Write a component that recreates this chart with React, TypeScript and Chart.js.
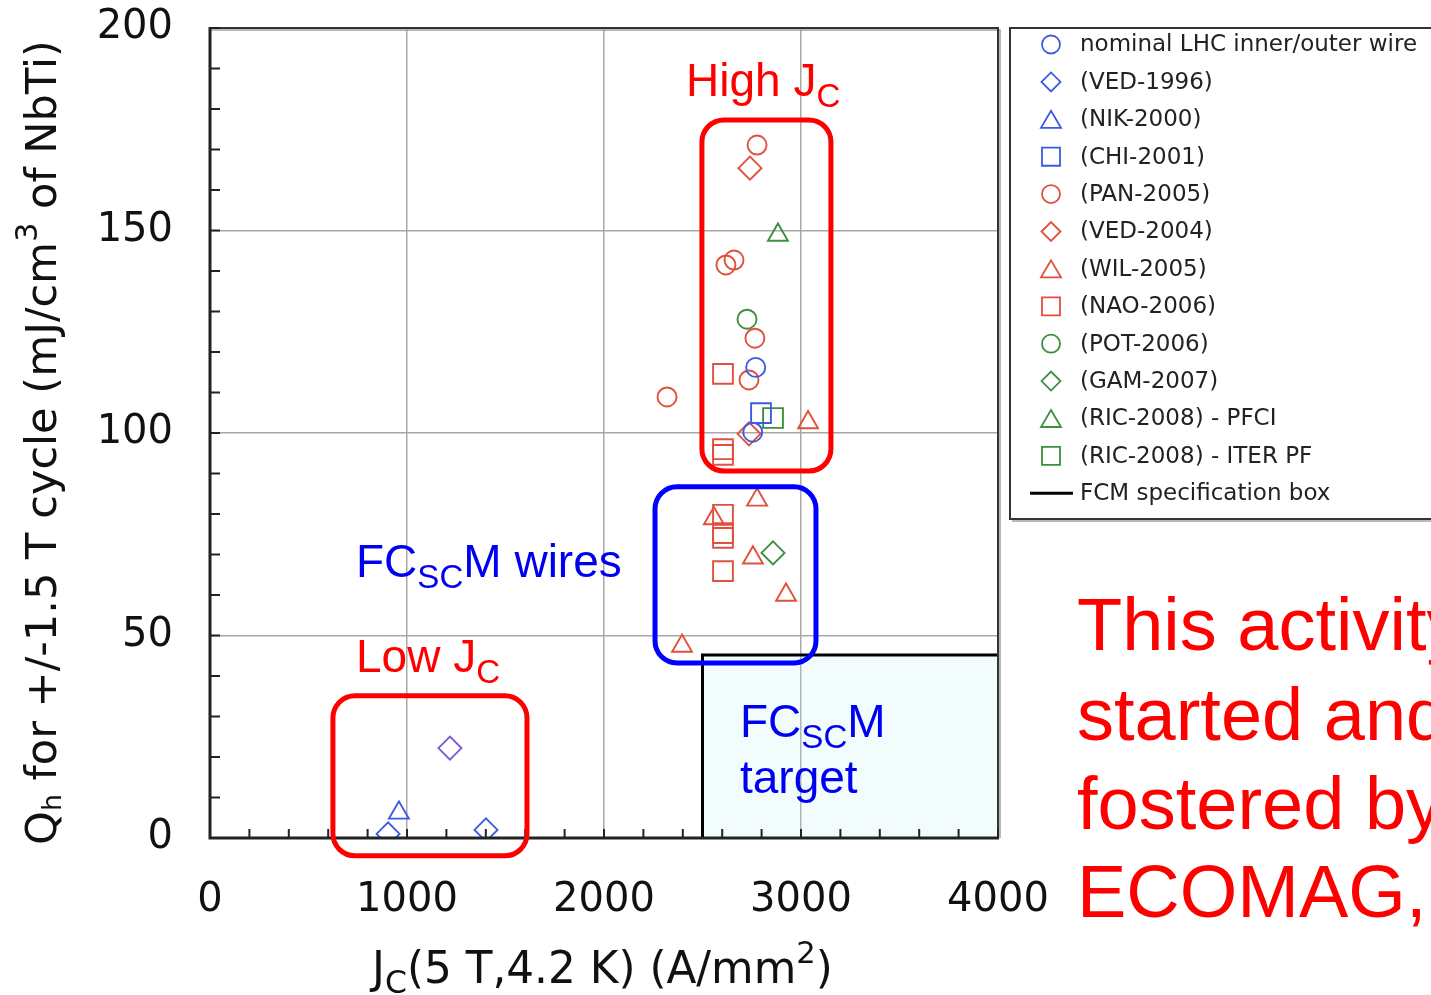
import React, { useEffect, useRef } from 'react';
import { Chart, registerables } from 'chart.js';

Chart.register(...registerables);

// ---------- data ----------
const xTickValues = [0, 1000, 2000, 3000, 4000];
const yTickValues = [0, 50, 100, 150, 200];

const lhcX = [2770, 2755];
const lhcY = [116.2, 100.2];

const ved1996X = [904, 1401, 1218];
const ved1996Y = [1.0, 2.0, 22.2];

const nik2000X = [959];
const nik2000Y = [6.2];

const chi2001X = [2797];
const chi2001Y = [104.9];

const pan2005X = [2777, 2619, 2660, 2766, 2736, 2320];
const pan2005Y = [171.1, 141.5, 142.7, 123.4, 113.1, 108.9];

const ved2004X = [2741, 2736];
const ved2004Y = [165.4, 99.8];

const wil2005X = [3036, 2777, 2558, 2756, 2924, 2396];
const wil2005Y = [102.6, 83.5, 78.9, 69.2, 60.0, 47.4];

const nao2006X = [2604, 2604, 2604, 2604, 2604, 2604, 2604];
const nao2006Y = [114.6, 96.0, 94.6, 79.8, 75.3, 74.1, 65.9];

const pot2006X = [2726];
const pot2006Y = [128.1];

const gam2007X = [2858];
const gam2007Y = [70.4];

const ricPfciX = [2883];
const ricPfciY = [148.9];

const ricIterX = [2858];
const ricIterY = [103.7];

const fcmBoxX = [2500, 2500, 4000];
const fcmBoxY = [0, 45.2, 45.2];

// annotation boxes in data units: [xMin, xMax, yMin, yMax]
const highJcBox = [2497, 3152, 90.6, 177.3];
const wiresBox = [2259, 3076, 43.2, 86.7];
const lowJcBox = [624, 1609, -4.4, 35.1];

// ---------- styles ----------
const BLUE = '#3a5ce2';
const RED = '#e1503c';
const GREEN = '#3e8e3e';
const PURPLE = '#7b5bd0';

const pts = (xs: number[], ys: number[]) => xs.map((x, i) => ({ x, y: ys[i] }));

const markerSet = (label: string, xs: number[], ys: number[], style: string, color: any, legendColor: string) => {
  const radius = style === 'circle' ? 9.5 : style === 'rect' ? 14 : style === 'rectRot' ? 11.5 : 11.5;
  return {
    label,
    data: pts(xs, ys),
    pointStyle: style,
    pointRadius: radius,
    pointHoverRadius: radius,
    pointBorderColor: color,
    pointBackgroundColor: 'rgba(0,0,0,0)',
    pointBorderWidth: 1.9,
    borderColor: legendColor,
    backgroundColor: 'rgba(0,0,0,0)',
    showLine: false,
    legendStyle: style,
    legendColor,
  };
};

function roundRectPath(ctx: CanvasRenderingContext2D, x: number, y: number, w: number, h: number, r: number) {
  ctx.beginPath();
  ctx.moveTo(x + r, y);
  ctx.lineTo(x + w - r, y);
  ctx.arcTo(x + w, y, x + w, y + r, r);
  ctx.lineTo(x + w, y + h - r);
  ctx.arcTo(x + w, y + h, x + w - r, y + h, r);
  ctx.lineTo(x + r, y + h);
  ctx.arcTo(x, y + h, x, y + h - r, r);
  ctx.lineTo(x, y + r);
  ctx.arcTo(x, y, x + r, y, r);
  ctx.closePath();
}

type Part = { t: string; s?: number; dy?: number };

function richWidth(ctx: CanvasRenderingContext2D, parts: Part[], size: number, family: string) {
  let w = 0;
  for (const p of parts) {
    ctx.font = `${size * (p.s || 1)}px ${family}`;
    w += ctx.measureText(p.t).width;
  }
  return w;
}

function drawRich(ctx: CanvasRenderingContext2D, parts: Part[], x: number, y: number, size: number, family: string) {
  let cx = x;
  ctx.textAlign = 'left';
  ctx.textBaseline = 'alphabetic';
  for (const p of parts) {
    ctx.font = `${size * (p.s || 1)}px ${family}`;
    ctx.fillText(p.t, cx, y + (p.dy || 0) * size);
    cx += ctx.measureText(p.t).width;
  }
}

function fitSize(ctx: CanvasRenderingContext2D, parts: Part[], target: number, family: string) {
  const w = richWidth(ctx, parts, 100, family);
  return (100 * target) / w;
}

function drawMarker(ctx: CanvasRenderingContext2D, style: string, x: number, y: number, r: number) {
  ctx.beginPath();
  if (style === 'circle') {
    ctx.arc(x, y, r, 0, Math.PI * 2);
  } else if (style === 'rectRot') {
    ctx.moveTo(x - r, y);
    ctx.lineTo(x, y - r);
    ctx.lineTo(x + r, y);
    ctx.lineTo(x, y + r);
    ctx.closePath();
  } else if (style === 'triangle') {
    const h = r * 1.7;
    ctx.moveTo(x, y - h / 2);
    ctx.lineTo(x + r, y + h / 2);
    ctx.lineTo(x - r, y + h / 2);
    ctx.closePath();
  } else {
    ctx.rect(x - r * 0.95, y - r * 0.95, r * 1.9, r * 1.9);
  }
  ctx.stroke();
}

const decorPlugin = {
  id: 'decor',
  afterDraw(chart: any) {
    const ctx: CanvasRenderingContext2D = chart.ctx;
    const xs = chart.scales.x;
    const ys = chart.scales.y;
    const a = chart.chartArea;
    ctx.save();

    // frame top/right with light shadow
    ctx.strokeStyle = '#a0a0a0';
    ctx.lineWidth = 1.5;
    ctx.beginPath();
    ctx.moveTo(a.left, a.top + 2);
    ctx.lineTo(a.right + 2, a.top + 2);
    ctx.lineTo(a.right + 2, a.bottom);
    ctx.stroke();
    ctx.strokeStyle = '#333';
    ctx.lineWidth = 2;
    ctx.beginPath();
    ctx.moveTo(a.left, a.top);
    ctx.lineTo(a.right, a.top);
    ctx.lineTo(a.right, a.bottom);
    ctx.stroke();

    // axis lines
    ctx.strokeStyle = '#222';
    ctx.lineWidth = 3;
    ctx.beginPath();
    ctx.moveTo(a.left, a.top - 1);
    ctx.lineTo(a.left, a.bottom);
    ctx.lineTo(a.right + 1, a.bottom);
    ctx.stroke();

    // minor ticks (inside)
    ctx.lineWidth = 2;
    ctx.beginPath();
    for (let v = 0; v <= 4000; v += 200) {
      const px = xs.getPixelForValue(v);
      ctx.moveTo(px, a.bottom);
      ctx.lineTo(px, a.bottom - 9);
    }
    for (let v = 0; v <= 200; v += 10) {
      const py = ys.getPixelForValue(v);
      ctx.moveTo(a.left, py);
      ctx.lineTo(a.left + 10, py);
    }
    ctx.stroke();

    // annotation boxes
    const box = (b: number[], color: string) => {
      const x0 = xs.getPixelForValue(b[0]);
      const x1 = xs.getPixelForValue(b[1]);
      const y0 = ys.getPixelForValue(b[3]);
      const y1 = ys.getPixelForValue(b[2]);
      ctx.strokeStyle = color;
      ctx.lineWidth = 5;
      roundRectPath(ctx, x0, y0, x1 - x0, y1 - y0, 22);
      ctx.stroke();
    };
    box(highJcBox, '#ff0000');
    box(wiresBox, '#0000ff');
    box(lowJcBox, '#ff0000');

    // annotation texts
    const AF = '"Liberation Sans", Arial, sans-serif';
    const S = 46;
    ctx.fillStyle = '#ff0000';
    drawRich(ctx, [{ t: 'High J' }, { t: 'C', s: 0.72, dy: 0.24 }], 686, 96, S, AF);
    drawRich(ctx, [{ t: 'Low J' }, { t: 'C', s: 0.72, dy: 0.24 }], 356, 672, S, AF);
    ctx.fillStyle = '#0000f0';
    drawRich(ctx, [{ t: 'FC' }, { t: 'SC', s: 0.72, dy: 0.24 }, { t: 'M wires' }], 356, 577, S, AF);
    drawRich(ctx, [{ t: 'FC' }, { t: 'SC', s: 0.72, dy: 0.24 }, { t: 'M' }], 740, 737, S, AF);
    drawRich(ctx, [{ t: 'target' }], 740, 793, S, AF);

    // big red text on the right
    ctx.fillStyle = '#ff0000';
    ctx.font = `74px ${AF}`;
    ctx.textAlign = 'left';
    ctx.textBaseline = 'alphabetic';
    ctx.fillText('This activity', 1077, 650);
    ctx.fillText('started and', 1077, 740);
    ctx.fillText('fostered by', 1077, 829);
    ctx.fillText('ECOMAG,', 1077, 917);

    // axis titles
    const DF = '"DejaVu Sans", Verdana, sans-serif';
    ctx.fillStyle = '#111';
    const xTitle: Part[] = [
      { t: 'J' },
      { t: 'C', s: 0.72, dy: 0.22 },
      { t: '(5 T,4.2 K) (A/mm' },
      { t: '2', s: 0.7, dy: -0.45 },
      { t: ')' },
    ];
    const xs1 = fitSize(ctx, xTitle, 461, DF);
    drawRich(ctx, xTitle, 372, 983, xs1, DF);

    const yTitle: Part[] = [
      { t: 'Q' },
      { t: 'h', s: 0.62, dy: 0.12 },
      { t: ' for +/-1.5 T cycle (mJ/cm' },
      { t: '3', s: 0.7, dy: -0.45 },
      { t: ' of NbTi)' },
    ];
    const ys1 = fitSize(ctx, yTitle, 805, DF);
    ctx.save();
    ctx.translate(56, 845);
    ctx.rotate(-Math.PI / 2);
    drawRich(ctx, yTitle, 0, 0, ys1, DF);
    ctx.restore();

    // legend
    const lx = 1010, ly = 28, lw = 430, lh = 491;
    ctx.strokeStyle = '#a0a0a0';
    ctx.lineWidth = 1.5;
    ctx.beginPath();
    ctx.moveTo(lx + 2, ly + lh + 2);
    ctx.lineTo(lx + lw, ly + lh + 2);
    ctx.stroke();
    ctx.strokeStyle = '#333';
    ctx.lineWidth = 2;
    ctx.strokeRect(lx, ly, lw, lh);

    ctx.font = `23px ${DF}`;
    ctx.textBaseline = 'middle';
    ctx.textAlign = 'left';
    chart.data.datasets.forEach((ds: any, i: number) => {
      const cy = 44.5 + i * 37.4;
      if (ds.legendStyle === 'line') {
        ctx.strokeStyle = '#000';
        ctx.lineWidth = 3;
        ctx.beginPath();
        ctx.moveTo(1030, cy);
        ctx.lineTo(1073, cy);
        ctx.stroke();
      } else {
        ctx.strokeStyle = ds.legendColor;
        ctx.lineWidth = 1.8;
        const r = ds.legendStyle === 'circle' ? 9 : ds.legendStyle === 'rectRot' ? 9.5 : ds.legendStyle === 'triangle' ? 10 : 9.5;
        drawMarker(ctx, ds.legendStyle, 1051, cy, r);
      }
      ctx.fillStyle = '#222';
      ctx.font = `23px ${DF}`;
      ctx.fillText(ds.label, 1080, cy + 1);
    });

    ctx.restore();
  },
};

export default function App() {
  const ref = useRef<HTMLCanvasElement | null>(null);

  useEffect(() => {
    document.body.style.margin = '0';
    const canvas = ref.current;
    if (!canvas) return;

    const datasets: any[] = [
      markerSet('nominal LHC inner/outer wire', lhcX, lhcY, 'circle', BLUE, BLUE),
      markerSet('(VED-1996)', ved1996X, ved1996Y, 'rectRot', (c: any) => (c.dataIndex === 2 ? PURPLE : BLUE), BLUE),
      markerSet('(NIK-2000)', nik2000X, nik2000Y, 'triangle', BLUE, BLUE),
      markerSet('(CHI-2001)', chi2001X, chi2001Y, 'rect', BLUE, BLUE),
      markerSet('(PAN-2005)', pan2005X, pan2005Y, 'circle', RED, RED),
      markerSet('(VED-2004)', ved2004X, ved2004Y, 'rectRot', RED, RED),
      markerSet('(WIL-2005)', wil2005X, wil2005Y, 'triangle', RED, RED),
      markerSet('(NAO-2006)', nao2006X, nao2006Y, 'rect', RED, RED),
      markerSet('(POT-2006)', pot2006X, pot2006Y, 'circle', GREEN, GREEN),
      markerSet('(GAM-2007)', gam2007X, gam2007Y, 'rectRot', GREEN, GREEN),
      markerSet('(RIC-2008) - PFCI', ricPfciX, ricPfciY, 'triangle', GREEN, GREEN),
      markerSet('(RIC-2008) - ITER PF', ricIterX, ricIterY, 'rect', GREEN, GREEN),
      {
        label: 'FCM specification box',
        data: pts(fcmBoxX, fcmBoxY),
        showLine: true,
        borderColor: '#000',
        borderWidth: 3,
        pointRadius: 0,
        pointHoverRadius: 0,
        fill: 'origin',
        backgroundColor: 'rgba(190,240,240,0.2)',
        tension: 0,
        legendStyle: 'line',
        legendColor: '#000',
      },
    ];

    const gridColor = (edge: number[]) => (c: any) =>
      c.tick && edge.includes(c.tick.value) ? 'rgba(0,0,0,0)' : '#a8a8a8';

    const chart = new Chart(canvas, {
      type: 'scatter',
      data: { datasets },
      options: {
        animation: false,
        responsive: false,
        devicePixelRatio: 1,
        events: [],
        layout: { padding: { left: 0, top: 28, right: 433, bottom: 0 } },
        plugins: {
          legend: { display: false },
          tooltip: { enabled: false },
        },
        scales: {
          x: {
            type: 'linear',
            min: 0,
            max: 4000,
            afterFit: (s: any) => {
              s.height = 157;
              s.paddingLeft = 0;
              s.paddingRight = 0;
            },
            afterBuildTicks: (s: any) => {
              s.ticks = xTickValues.map((v) => ({ value: v }));
            },
            ticks: {
              font: { family: '"DejaVu Sans", Verdana, sans-serif', size: 40 },
              color: '#111',
              padding: 39,
              maxRotation: 0,
              autoSkip: false,
              callback: (v: any) => String(v),
            },
            grid: { color: gridColor([0, 4000]), lineWidth: 1.5, drawTicks: false, tickLength: 0 },
            border: { display: false },
          },
          y: {
            type: 'linear',
            min: 0,
            max: 200,
            afterFit: (s: any) => {
              s.width = 210;
              s.paddingTop = 0;
              s.paddingBottom = 0;
            },
            afterBuildTicks: (s: any) => {
              s.ticks = yTickValues.map((v) => ({ value: v }));
            },
            ticks: {
              font: { family: '"DejaVu Sans", Verdana, sans-serif', size: 40 },
              color: '#111',
              padding: 37,
              autoSkip: false,
              callback: (v: any) => String(v),
            },
            grid: { color: gridColor([0, 200]), lineWidth: 1.5, drawTicks: false, tickLength: 0 },
            border: { display: false },
          },
        },
      } as any,
      plugins: [decorPlugin],
    });

    return () => chart.destroy();
  }, []);

  return (
    <div style={{ width: 1431, height: 995 }}>
      <canvas ref={ref} width={1431} height={995} style={{ display: 'block' }} />
    </div>
  );
}
